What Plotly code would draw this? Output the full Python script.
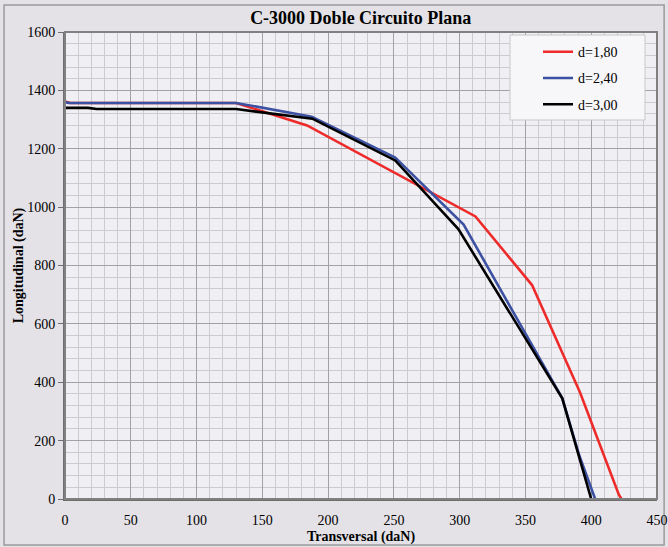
import plotly.graph_objects as go

# Data
red_x = [0, 4, 130, 184, 312, 355, 391.5, 419, 421, 423]
red_y = [1362, 1357, 1357, 1280, 968, 733, 365, 35, 15, 0]

blue_x = [0, 3, 130, 187.5, 251, 303, 378, 391, 403]
blue_y = [1360, 1357, 1357, 1310, 1170, 940, 345, 148, 0]

black_x = [0, 17.5, 24, 130, 188, 251, 299, 378, 400]
black_y = [1340, 1340, 1336, 1336, 1303, 1160, 925, 345, 0]

series = [
    ("d=1,80", red_x, red_y, "#ee2b2b"),
    ("d=2,40", blue_x, blue_y, "#3d51a3"),
    ("d=3,00", black_x, black_y, "#000000"),
]

font_family = "Liberation Serif, Times New Roman, serif"

fig = go.Figure()
for name, xs, ys, col in series:
    fig.add_trace(go.Scatter(x=xs, y=ys, mode="lines", name=name, legendgroup=name,
                             line=dict(color=col, width=2.6)))

fig.update_layout(
    width=668, height=547,
    margin=dict(l=65, r=11, t=32, b=48, autoexpand=False),
    paper_bgcolor="#e4e2e7",
    plot_bgcolor="#f0eff3",
    font=dict(family=font_family, size=14, color="#000000"),
    title=dict(text="<b>C-3000 Doble Circuito Plana</b>", x=0.54, xanchor="center",
               y=0.967, yanchor="middle", font=dict(size=18, family=font_family)),
    legend=dict(x=0.799, y=0.991, xanchor="left", yanchor="top",
                bgcolor="rgba(0,0,0,0)", borderwidth=0,
                font=dict(size=14, family=font_family),
                tracegroupgap=5),
    showlegend=True,
)

fig.update_xaxes(
    range=[0, 450], dtick=50, tick0=0, automargin=False,
    showgrid=True, gridcolor="#a3a1a6", gridwidth=1,
    minor=dict(dtick=10, showgrid=True, gridcolor="#cdcbd0", gridwidth=1),
    showline=True, linecolor="#6e6e6e", linewidth=2, mirror=False,
    ticks="", ticklabelstandoff=7,
    zeroline=False,
    title=dict(text="<b>Transversal (daN)</b>", font=dict(size=14, family=font_family), standoff=4),
    tickfont=dict(size=14, family=font_family),
)
fig.update_yaxes(
    range=[0, 1600], dtick=200, tick0=0, automargin=False,
    showgrid=True, gridcolor="#a3a1a6", gridwidth=1,
    minor=dict(dtick=40, showgrid=True, gridcolor="#cdcbd0", gridwidth=1),
    showline=True, linecolor="#6e6e6e", linewidth=2, mirror=False,
    ticks="outside", ticklen=5, tickcolor="#6e6e6e",
    zeroline=False,
    title=dict(text="<b>Longitudinal (daN)</b>", font=dict(size=14, family=font_family), standoff=0),
    tickfont=dict(size=14, family=font_family),
)

# plot area frame (top/right)
fig.add_shape(type="rect", xref="paper", yref="paper", x0=0, x1=1, y0=0, y1=1,
              line=dict(color="#808080", width=2), layer="above")
# legend box
fig.add_shape(type="rect", xref="paper", yref="paper",
              x0=(510 - 65) / 592, x1=(645 - 65) / 592,
              y0=(499 - 120) / 467, y1=(499 - 35) / 467,
              fillcolor="#f7f6f8", line=dict(color="#c8c8c8", width=1), layer="above")
# outer chart frame
fig.add_shape(type="rect", xref="paper", yref="paper",
              x0=-0.103, x1=1.012, y0=-0.0985, y1=1.058,
              line=dict(color="#9a9a9a", width=1.5), layer="below")

fig.write_html("out.html")
